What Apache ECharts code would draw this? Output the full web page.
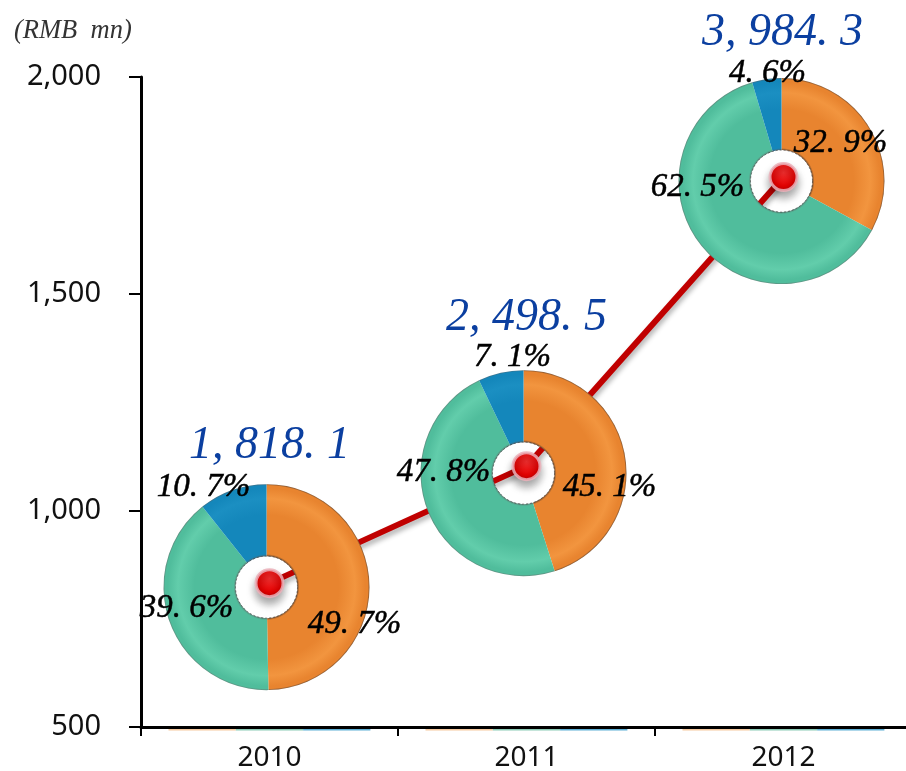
<!DOCTYPE html>
<html><head><meta charset="utf-8">
<style>html,body{margin:0;padding:0;background:#fff;overflow:hidden}#c{width:906px;height:771px}</style>
<script src="https://cdn.jsdelivr.net/npm/echarts@6/dist/echarts.min.js"></script>
</head><body><div id="c"></div>
<script>
const categories = ['2010','2011','2012'];
const lineValues = [832,1102,1769];
const totalLabels = ['1, 818. 1','2, 498. 5','3, 984. 3'];
const share2010 = [49.7,39.6,10.7];
const share2011 = [45.1,47.8,7.1];
const share2012 = [32.9,62.5,4.6];
const shareText2010 = ['49. 7%','39. 6%','10. 7%'];
const shareText2011 = ['45. 1%','47. 8%','7. 1%'];
const shareText2012 = ['32. 9%','62. 5%','4. 6%'];
const yTicks = {min:500,max:2000,interval:500};

// layout only
const pieOffsets = [[-3,4],[-3,7],[-2,4]], R = 103, r0 = 31;
const labelOffsets = [
  [[88,37],[-80,21],[-63,-100]],
  [[86,14],[-80,-1],[-11,-116]],
  [[59,-38],[-84,6],[-14,-108]]
];
const totalOffsets = [[0,-137],[0,-148],[-1,-144]];
const palette = [
  {base:'#E8842F',hi:'#F2953F',edge:'#7d5230'},
  {base:'#50BD9C',hi:'#62CDAB',edge:'#5d8a7c'},
  {base:'#1487BB',hi:'#1B8FC2',edge:'#3f6f86'}
];
const strip = ['#F6C9A0','#8CCBB6','#5FB0D6'];
const shares=[share2010,share2011,share2012], texts=[shareText2010,shareText2011,shareText2012];

const chart = echarts.init(document.getElementById('c'),null,{renderer:'canvas'});
const base = {
  animation:false,
  grid:{left:141,top:77,width:771,height:650,containLabel:false,outerBoundsMode:'none'},
  xAxis:{type:'category',data:categories,boundaryGap:true,
    axisLine:{lineStyle:{color:'#000',width:3}},
    axisTick:{show:true,alignWithLabel:false,length:9,lineStyle:{color:'#000',width:2}},
    axisLabel:{color:'#111',fontFamily:'Noto Sans',fontSize:28,margin:17},
    splitLine:{show:false}},
  yAxis:{type:'value',min:yTicks.min,max:yTicks.max,interval:yTicks.interval,
    axisLine:{show:true,lineStyle:{color:'#000',width:3}},
    axisTick:{show:true,length:12,lineStyle:{color:'#000',width:2}},
    axisLabel:{color:'#111',fontFamily:'Noto Sans',fontSize:29,margin:40,padding:[5,0,0,0],
      formatter:v=>v.toLocaleString('en-US')},
    splitLine:{show:false}},
  series:[{type:'line',name:'total',z:2,data:lineValues.map((v,i)=>({value:v,
      label:{show:true,position:'inside',offset:totalOffsets[i],formatter:totalLabels[i],
        fontFamily:'Liberation Serif',fontStyle:'italic',fontSize:46,color:'#0B3FA0'}})),
    lineStyle:{color:'#C00000',width:6,shadowColor:'rgba(0,0,0,.3)',shadowBlur:5,shadowOffsetY:4,shadowOffsetX:1},
    symbol:'circle',symbolSize:27,showSymbol:true,
    itemStyle:{color:{type:'radial',x:.5,y:.35,r:.65,colorStops:[{offset:0,color:'#F83030'},{offset:.7,color:'#E00000'},{offset:1,color:'#B00000'}]},
      borderColor:'rgba(235,175,185,.85)',borderWidth:3,shadowColor:'rgba(0,0,0,.35)',shadowBlur:9,shadowOffsetY:6}}]
};
chart.setOption(base);

const centers = categories.map((c,i)=>{
  const p = chart.convertToPixel({gridIndex:0},[i,lineValues[i]]);
  return [p[0]+pieOffsets[i][0],p[1]+pieOffsets[i][1]];
});
function grad(c,col){
  const k=r0/R;
  return {type:'radial',x:c[0],y:c[1],r:R,global:true,colorStops:[
    {offset:0,color:col.base},{offset:k,color:col.edge},{offset:k+.02,color:col.base},
    {offset:.7,color:col.base},{offset:.86,color:col.hi},{offset:.96,color:col.base},
    {offset:.985,color:col.base},{offset:1,color:col.edge}]};
}
const pies = categories.map((c,i)=>({type:'pie',name:c,z:3,silent:true,
  center:centers[i],radius:[r0,R],startAngle:90,clockwise:true,
  avoidLabelOverlap:false,
  label:{show:true,position:'inside',fontFamily:'Liberation Serif',fontStyle:'italic',fontSize:33,color:'#000',textBorderColor:'#000',textBorderWidth:.5,
    formatter:p=>texts[i][p.dataIndex]},
  labelLine:{show:false},
  labelLayout:p=>({x:centers[i][0]+labelOffsets[i][p.dataIndex][0],y:centers[i][1]+labelOffsets[i][p.dataIndex][1],align:'center',verticalAlign:'middle'}),
  data:shares[i].map((v,j)=>({value:v,name:['a','b','c'][j],itemStyle:{color:grad(centers[i],palette[j])}}))
}));
const graphic=[];
centers.forEach((c,i)=>{
  graphic.push({type:'circle',z:20,silent:true,shape:{cx:c[0],cy:c[1],r:r0},style:{fill:'none',stroke:'rgba(70,70,70,.7)',lineWidth:1,lineDash:[2,2]}});
  const px=chart.convertToPixel({gridIndex:0},[i,yTicks.min]);
  strip.forEach((col,j)=>graphic.push({type:'rect',z:10,silent:true,shape:{x:px[0]-101+j*67.3,y:px[1]+2,width:67.3,height:1.5},style:{fill:col}}));
});
graphic.push({type:'text',silent:true,z:5,x:14,y:18,style:{text:'(RMB  mn)',font:'italic 26.5px "Liberation Serif"',fill:'#333'}});
chart.setOption({series:[base.series[0],...pies],graphic});
</script></body></html>
